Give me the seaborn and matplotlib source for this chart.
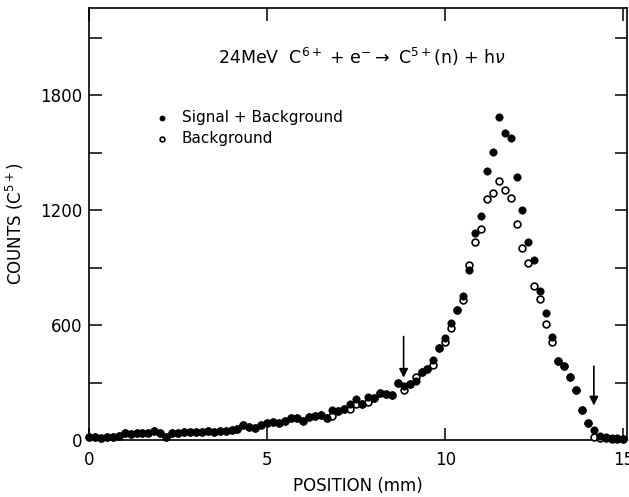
import numpy as np
import seaborn as sns
import matplotlib.pyplot as plt
from matplotlib.ticker import MultipleLocator


# channel positions (mm), 1/6 mm per channel
position = np.arange(91) / 6

signal = [14, 14, 9, 14, 17, 21, 35, 30, 38, 35,
          35, 47, 35, 17, 35, 38, 43, 43, 43, 43,
          49, 40, 47, 47, 52, 56, 78, 66, 64, 78,
          87, 96, 90, 101, 113, 113, 101, 122, 127, 130,
          113, 156, 153, 160, 188, 212, 188, 226, 217, 243,
          238, 236, 299, 282, 290, 308, 353, 369, 417, 482,
          534, 609, 677, 753, 887, 1078, 1170, 1405, 1501, 1686,
          1605, 1574, 1374, 1203, 1035, 939, 777, 661, 539, 412,
          388, 327, 259, 156, 87, 52, 22, 18, 12, 8,
          6]

background = [14, 14, 9, 14, 17, 21, 35, 30, 38, 35,
              35, 47, 35, 17, 35, 38, 43, 43, 43, 43,
              49, 40, 47, 47, 52, 56, 78, 66, 64, 78,
              87, 96, 90, 101, 113, 113, 101, 122, 127, 130,
              113, 127, 153, 160, 160, 188, 188, 200, 217, 243,
              238, 236, 299, 261, 290, 330, 353, 369, 391, 482,
              510, 584, 677, 730, 913, 1035, 1100, 1257, 1290, 1353,
              1304, 1261, 1127, 1000, 922, 803, 734, 605, 513, 412,
              388, 327, 259, 156, 87, 17, 10, 8, 6, 4,
              3]

arrow_x = [8.83, 14.17]
arrow_from = [540, 385]
arrow_to = [325, 180]

sns.set_style("ticks")
plt.rcParams["font.family"] = ["DejaVu Sans"]
plt.rcParams["mathtext.fontset"] = "dejavusans"
plt.rcParams["text.color"] = "black"
plt.rcParams["axes.labelcolor"] = "black"

fig = plt.figure(figsize=(6.29, 4.97), dpi=100)
ax = fig.add_axes([0.1415, 0.1147, 0.8553, 0.8692])

sns.scatterplot(x=position, y=background, s=24, marker="o", facecolor="white",
                edgecolor="black", linewidth=1.2, ax=ax, zorder=3, clip_on=False,
                label="Background")
sns.scatterplot(x=position, y=signal, s=28, marker="o", color="black",
                edgecolor="black", linewidth=0.5, ax=ax, zorder=4, clip_on=False,
                label="Signal + Background")

for xa, y0, y1 in zip(arrow_x, arrow_from, arrow_to):
    ax.annotate("", xy=(xa, y1), xytext=(xa, y0),
                arrowprops=dict(arrowstyle="-|>", color="black", lw=1.2,
                                mutation_scale=13, shrinkA=0, shrinkB=0))

ax.set_xlim(0, 15.1)
ax.set_ylim(0, 2255)
ax.xaxis.set_major_locator(MultipleLocator(5))
ax.yaxis.set_major_locator(MultipleLocator(600))
ax.yaxis.set_minor_locator(MultipleLocator(300))
ax.tick_params(which="both", direction="in", length=9, width=1.1,
               top=True, right=True, labelsize=12, colors="black")
ax.tick_params(axis="x", pad=8)
ax.tick_params(axis="y", pad=5)
for sp in ax.spines.values():
    sp.set_linewidth(1.2)
    sp.set_color("black")

ax.set_xlabel("POSITION (mm)", fontsize=12, labelpad=6)
ax.set_ylabel("COUNTS (C$^{5+}$)", fontsize=12, labelpad=10)

ax.text(0.508, 0.887, r"24MeV  C$^{6+}$ + e$^{-}$$\rightarrow$ C$^{5+}$(n) + h$\nu$",
        transform=ax.transAxes, ha="center", va="center", fontsize=12.5)

handles, labels = ax.get_legend_handles_labels()
ax.legend(handles[::-1], labels[::-1], loc="upper left", bbox_to_anchor=(0.121, 0.765),
          frameon=False, fontsize=11, handlelength=1, handletextpad=0.8,
          borderpad=0, borderaxespad=0, labelspacing=0.45, markerscale=0.7)

fig.savefig("out.png", dpi=100)
